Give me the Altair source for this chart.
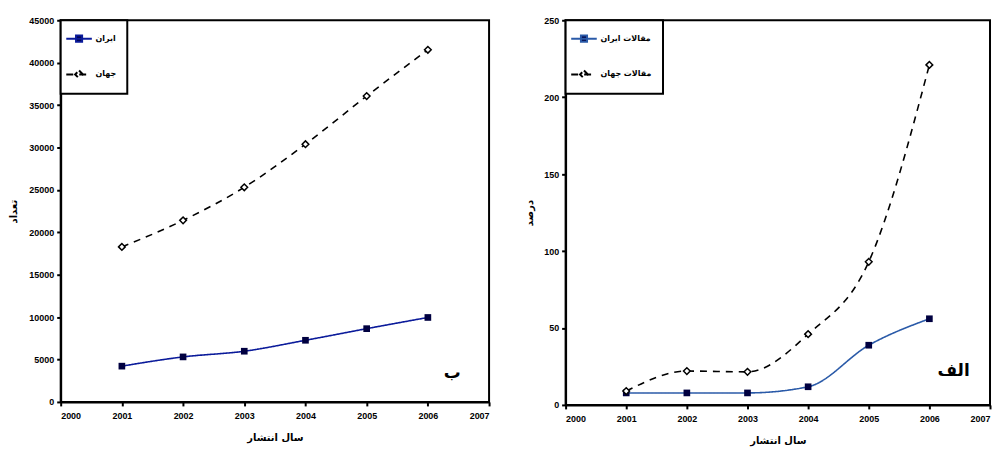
import altair as alt
import pandas as pd

years = [2001, 2002, 2003, 2004, 2005, 2006]

# Left panel (ب)
left_names = ["ایران", "جهان"]
left_blue = [4220, 5310, 5980, 7270, 8640, 9960]
left_black = [18280, 21410, 25310, 30390, 36060, 41520]

# Right panel (الف)
right_names = ["مقالات ایران", "مقالات جهان"]
right_blue = [7.8, 7.8, 7.8, 11.8, 38.8, 56]
right_black = [9, 22, 21.5, 46, 93, 221]

left_ytitle = "تعداد"
right_ytitle = "درصد"
xtitle_left = "سال انتشار"
xtitle_right = "سال انتشار"

left_label = ["ب"]
right_label = ["الف"]

FA = "DejaVu Sans"
NUM = "Liberation Sans"

SQ_PATH = "M-2.1,0H2.1M-0.5,-0.5H0.5V0.5H-0.5Z"
DI_PATH = "M-2.1,0H2.1M0,-0.65L0.65,0L0,0.65L-0.65,0Z"


def make_legend():
    return alt.Legend(title=None, orient="top-left", offset=0,
                      strokeColor="black", fillColor="white",
                      padding=11, rowPadding=20, labelFont=FA,
                      labelFontSize=8, labelFontWeight="bold",
                      labelOffset=9, symbolSize=150, symbolStrokeWidth=2)


def panel(names, blue, black, ymax, ystep, ytitle, xtitle, label, label_xy,
          w, h, line_blue, extent, tpad):
    df = pd.DataFrame({
        "year": years * 2,
        "value": blue + black,
        "series": [names[0]] * len(years) + [names[1]] * len(years),
    })
    x = alt.X("year:Q", scale=alt.Scale(domain=[2000, 2007], nice=False),
              axis=alt.Axis(values=list(range(2000, 2008)), format="d", title=xtitle,
                            titleFont=FA, titleFontSize=10, titleFontWeight="bold",
                            titlePadding=12, labelFont=NUM, labelFontSize=9,
                            labelFontWeight="bold", tickSize=4, labelPadding=6))
    y = alt.Y("value:Q", scale=alt.Scale(domain=[0, ymax], nice=False),
              axis=alt.Axis(values=list(range(0, ymax + 1, ystep)), format="d", title=ytitle,
                            titleFont=FA, titleFontSize=10, titleFontWeight="bold",
                            titlePadding=tpad, labelFont=NUM, labelFontSize=9,
                            labelFontWeight="bold", tickSize=4, labelPadding=3,
                            minExtent=extent, maxExtent=extent))
    color = alt.Color("series:N", scale=alt.Scale(domain=names, range=[line_blue, "black"]),
                      legend=make_legend())
    lines = alt.Chart(df).mark_line(strokeWidth=1.6, interpolate="monotone").encode(
        x=x, y=y, color=color,
        strokeDash=alt.StrokeDash("series:N", scale=alt.Scale(domain=names, range=[[1, 0], [7, 6]]),
                                  legend=None),
    )
    blue_pts = alt.Chart(df[df.series == names[0]]).mark_point(
        shape="square", size=45, strokeWidth=1.5, filled=True, color="#000040", opacity=1
    ).encode(x=x, y=y)
    black_pts = alt.Chart(df[df.series == names[1]]).mark_point(
        shape="diamond", size=45, strokeWidth=1.5, fill="white", stroke="black", opacity=1
    ).encode(x=x, y=y)

    # legend-only layer (clipped away from the plot)
    leg_df = pd.DataFrame({"series": names, "year": [1990, 1990], "value": [0, 0]})
    leg = alt.Chart(leg_df).mark_point(clip=True, strokeWidth=2, opacity=1).encode(
        x=x, y=y, color=color,
        shape=alt.Shape("series:N", scale=alt.Scale(domain=names, range=[SQ_PATH, DI_PATH]),
                        legend=make_legend()),
        fill=alt.Fill("series:N", scale=alt.Scale(domain=names, range=["#000040", "white"]),
                      legend=make_legend()),
    )
    lab = alt.Chart(pd.DataFrame({"t": label, "x": [label_xy[0]], "y": [label_xy[1]]})).mark_text(
        font=FA, fontSize=17, fontWeight="bold", color="black"
    ).encode(x="x:Q", y="y:Q", text="t:N")
    return alt.layer(lines, blue_pts, black_pts, leg, lab).properties(width=w, height=h)


left = panel(left_names, left_blue, left_black, 45000, 5000, left_ytitle, xtitle_left,
             left_label, (2006.4, 3400), 431, 384, "#0a1a9a", 32, 10)
right = panel(right_names, right_blue, right_black, 250, 50, right_ytitle, xtitle_right,
              right_label, (2006.4, 22), 427, 387, "#2a5aa8", 22, 9)

chart = alt.hconcat(left, right, spacing=77, bounds="flush").resolve_scale(
    color="independent", shape="independent", fill="independent", strokeDash="independent"
).properties(
    padding={"left": 0, "top": 6, "right": 0, "bottom": 0}
).configure_view(stroke="black", strokeWidth=2).configure_axis(
    grid=False, domainColor="black", domainWidth=2, tickColor="black", tickWidth=2,
    labelColor="black", titleColor="black"
).configure_legend(strokeWidth=2)

chart.save("out.html", embed_options={"renderer": "svg", "actions": False})
